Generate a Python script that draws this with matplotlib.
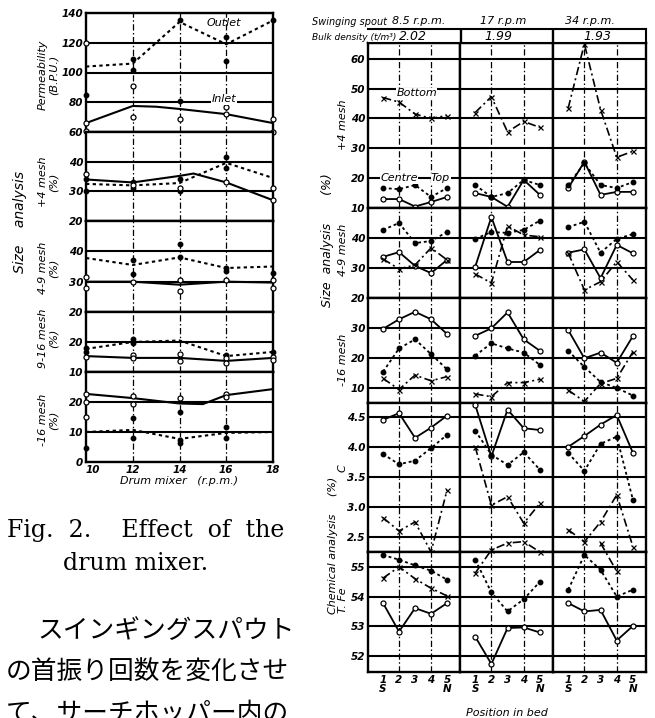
import numpy as np
import matplotlib.pyplot as plt

nan = np.nan
W, H = 655, 718

# ---------------- left chart: drum mixer ----------------
rpm = [10, 12, 14, 16, 18]
rpm_labels = ['10', '12', '14', '16', '18']

perm_outlet = [104, 106, 134, 119, 135]
perm_inlet_x = [10, 12, 13, 14, 16, 18]
perm_inlet = [66, 77.5, 77, 75.5, 72, 66]
perm_dots_x = [10, 12, 12, 14, 14, 16, 16, 18]
perm_dots = [85, 109, 102, 135, 81, 124, 108, 135]
perm_rings_x = [10, 10, 10, 12, 12, 14, 16, 16, 18, 18]
perm_rings = [120, 66, 61, 91, 70, 69, 77, 72, 69, 60]

m4_solid_x = [10, 12, 14, 14.6, 16, 18]
m4_solid = [34, 33, 35.2, 36, 33, 27]
m4_dotted = [32.5, 32, 32.8, 39.6, 34.5]
m4_dots_x = [10, 10, 12, 12, 14, 14, 16, 16]
m4_dots = [34, 30, 33, 31, 34, 30, 41.6, 38]
m4_rings_x = [10, 12, 14, 16, 18, 18]
m4_rings = [36, 32, 31, 33, 31, 27]

m49_solid = [30, 30, 29, 30, 29.7]
m49_dotted = [37.8, 35.5, 38, 34.5, 35]
m49_dots_x = [12, 12, 14, 14, 16, 16, 18]
m49_dots = [37, 32.5, 42.4, 38, 34.5, 33.5, 33]
m49_rings_x = [10, 10, 12, 14, 14, 16, 18, 18]
m49_rings = [31.5, 28, 30, 30.5, 27, 30.5, 30.5, 28]

m916_solid = [15.3, 14.7, 14.7, 13.7, 14.7]
m916_dotted = [17.7, 20, 20.5, 15.3, 16.7]
m916_dots_x = [10, 10, 12, 12, 16, 18]
m916_dots = [18, 16.5, 21, 19.5, 15.5, 16.5]
m916_rings_x = [10, 12, 12, 14, 14, 16, 16, 18, 18]
m916_rings = [15, 15.5, 14.5, 16, 13.5, 14.5, 13, 15, 14]

m16_solid_x = [10, 12, 14, 15, 16, 18]
m16_solid = [22.7, 21.3, 19.5, 19.3, 22.3, 24.3]
m16_dotted = [10, 10.7, 7.7, 9.7, 10]
m16_dots_x = [10, 12, 12, 14, 14, 14, 16, 16]
m16_dots = [4.7, 14.7, 8, 16.7, 7.5, 6.3, 11.7, 8]
m16_rings_x = [10, 10, 10, 12, 12, 14, 16, 16]
m16_rings = [22.7, 20, 15, 22, 19.5, 21.5, 22.8, 21.7]

# ---------------- right chart: swinging spout ----------------
positions = [1, 2, 3, 4, 5]
spout_speed = ['8.5 r.p.m.', '17 r.p.m', '34 r.p.m.']
bulk_density = ['2.02', '1.99', '1.93']

# per section (8.5, 17, 34 rpm), positions 1..5
r4_top = [[13, 13, 10.5, 12, 13.7], [15, 13.7, 10.4, 19.4, 14.4], [16.7, 25.5, 14.4, 15.4, 15.4]]
r4_centre = [[16.7, 16.3, 17.7, 13.7, 16.7], [17.7, 13.7, 15, 19.4, 17.7], [17.7, 25, 17.7, 16.7, 18.7]]
r4_bottom = [[47, 45.5, 41.5, 40, 41], [42, 47.3, 35.5, 39, 37], [43.5, 65, 43, 27, 29]]

r49_top = [[33.7, 35.3, 30.7, 28.3, 32.7], [30.4, 47, 32, 32, 36], [35.1, 36.2, 26.6, 37.7, 34.9]]
r49_centre = [[42.7, 45, 38.3, 39, 42], [39.7, 42, 41.7, 42.7, 45.8], [43.6, 45.4, 35.1, 39.7, 41.3]]
r49_bottom = [[33, 29.7, 31, 36.7, 32.7], [28, 25, 44, 41, 40.4], [35, 22.7, 25.4, 32.1, 26]]

r16_top = [[29.7, 32.9, 35.4, 32.9, 28], [27.4, 29.9, 35.2, 26.2, 22.4], [29.3, 19.9, 21.8, 18.4, 27.3]]
r16_centre = [[15.4, 23.2, 26.2, 21.3, 16.2], [20.8, 24.9, 23.2, 21.8, 17.7], [22.4, 17, 12, 10, 7.5]]
r16_bottom = [[13.2, 9.5, 14.3, 12.4, 13.8], [8, 7.1, 11.8, 11.8, 12.9], [9.3, 5.5, 11.5, 13.2, 22]]

rC_top = [[4.45, 4.56, 4.15, 4.32, 4.52], [4.7, 3.84, 4.62, 4.31, 4.28], [4.0, 4.18, 4.37, 4.53, 3.9]]
rC_centre = [[3.88, 3.71, 3.77, 3.98, 4.2], [4.27, 3.87, 3.7, 3.91, 3.62], [3.9, 3.6, 4.05, 4.17, 3.12]]
rC_bottom = [[2.82, 2.6, 2.75, 2.25, 3.28], [4.0, 3.03, 3.17, 2.73, 3.06], [2.62, 2.42, 2.75, 3.2, 2.34]]

rFe_top = [[53.78, 52.82, 53.61, 53.42, 53.78], [52.65, 51.73, 52.94, 52.96, 52.79], [53.78, 53.5, 53.55, 52.52, 53.01]]
rFe_centre = [[55.4, 55.24, 55.05, 54.87, 54.57], [55.24, 54.14, 53.5, 53.91, 54.5], [54.23, 55.4, 54.9, 54.0, 54.23]]
rFe_bottom = [[54.62, 55.0, 54.6, 54.28, 54.02], [54.79, 55.57, 55.8, 55.85, 55.5], [nan, nan, 55.8, 54.85, nan]]

# ---------------- drawing ----------------
fig = plt.figure(figsize=(W / 100, H / 100), dpi=100)
ff = ['Liberation Sans Narrow', 'DejaVu Sans']
num = dict(fontsize=7.5, fontstyle='italic', fontweight='bold', family=ff)
lab = dict(fontsize=8, fontstyle='italic', family=ff)

ring = dict(marker='o', mfc='white', mec='k', ms=3.6, mew=0.9, color='k')
dot = dict(marker='o', mfc='k', mec='k', ms=3.2, color='k')
xm = dict(marker='x', mec='k', ms=3.6, mew=0.9, color='k')
DOT = (0, (1.6, 1.6))
DASHDOT = (0, (5, 2, 1.2, 2))


def box(x0, y0, x1, y1):
    return fig.add_axes([x0 / W, 1 - y1 / H, (x1 - x0) / W, (y1 - y0) / H])


def frame(ax, ticks, labels, vlines, show_labels=True):
    for t in ticks:
        ax.axhline(t, color='k', lw=1.5, zorder=1)
    for v in vlines:
        ax.axvline(v, color='k', lw=0.9, ls=DASHDOT, zorder=1)
    for s in ax.spines.values():
        s.set_linewidth(1.7)
    ax.set_yticks(ticks)
    ax.set_xticks([])
    if show_labels:
        ax.set_yticklabels(labels, **num)
    else:
        ax.set_yticklabels([])
    ax.tick_params(length=0, pad=2)


# left chart panels: (top px, bottom px, ymin, ymax, ticks)
left = [
    (13, 132, 60, 140, [60, 80, 100, 120, 140]),
    (132, 221, 20, 50, [20, 30, 40]),
    (221, 312, 20, 50, [20, 30, 40]),
    (312, 372, 10, 30, [10, 20]),
    (372, 462, 0, 30, [0, 10, 20]),
]
left_series = [
    ([(perm_inlet_x, perm_inlet)], [(rpm, perm_outlet)], (perm_dots_x, perm_dots), (perm_rings_x, perm_rings)),
    ([(m4_solid_x, m4_solid)], [(rpm, m4_dotted)], (m4_dots_x, m4_dots), (m4_rings_x, m4_rings)),
    ([(rpm, m49_solid)], [(rpm, m49_dotted)], (m49_dots_x, m49_dots), (m49_rings_x, m49_rings)),
    ([(rpm, m916_solid)], [(rpm, m916_dotted)], (m916_dots_x, m916_dots), (m916_rings_x, m916_rings)),
    ([(m16_solid_x, m16_solid)], [(rpm, m16_dotted)], (m16_dots_x, m16_dots), (m16_rings_x, m16_rings)),
]
lax = []
for (y0, y1, lo, hi, ticks), (solids, dotteds, dots, rings) in zip(left, left_series):
    ax = box(86, y0, 273, y1)
    ax.set_xlim(10, 18)
    ax.set_ylim(lo, hi)
    frame(ax, ticks, [str(t) for t in ticks], [12, 14, 16])
    for x, y in solids:
        ax.plot(x, y, color='k', lw=1.5, zorder=3)
    for x, y in dotteds:
        ax.plot(x, y, color='k', lw=1.5, ls=DOT, zorder=3)
    ax.plot(dots[0], dots[1], ls='none', zorder=4, clip_on=False, **dot)
    ax.plot(rings[0], rings[1], ls='none', zorder=4, clip_on=False, **ring)
    lax.append(ax)

lax[0].text(15.9, 133, 'Outlet', ha='center', va='center', zorder=5, **lab)
lax[0].text(15.9, 82, 'Inlet', ha='center', va='center', zorder=5,
            bbox=dict(fc='white', ec='none', pad=0.5), **lab)
bot = lax[-1]
bot.set_xticks(rpm)
bot.set_xticklabels(rpm_labels, **num)
bot.get_xticklabels()[0].set_ha('left')
bot.tick_params(axis='x', length=0, pad=2)
bot.set_xlabel('Drum mixer   (r.p.m.)', labelpad=1, **lab)

fig.text(48 / W, 1 - 75 / H, 'Permeability\n(B.P.U.)', rotation=90, ha='center', va='center',
         multialignment='center', linespacing=1.1, **lab)
fig.text(20 / W, 1 - 222 / H, 'Size    analysis', rotation=90, ha='center', va='center',
         fontsize=10, fontstyle='italic', family=ff)
for yc, txt in [(182, '+4 mesh\n(%)'), (268, '4-9 mesh\n(%)'), (338, '9-16 mesh\n(%)'), (420, '-16 mesh\n(%)')]:
    fig.text(48 / W, 1 - yc / H, txt, rotation=90, ha='center', va='center',
             multialignment='center', linespacing=1.1, **lab)

# caption and body text
fig.text(7 / W, 1 - 531 / H, 'Fig.  2.    Effect  of  the', ha='left', va='center',
         fontsize=17, family='DejaVu Serif')
fig.text(136 / W, 1 - 564 / H, 'drum mixer.', ha='center', va='center',
         fontsize=17, family='DejaVu Serif')
jp = ['Noto Sans CJK JP', 'DejaVu Sans']
fig.text(37 / W, 1 - 631 / H, 'スインギングスパウト', ha='left', va='center', fontsize=18.5, family=jp)
fig.text(6 / W, 1 - 672 / H, 'の首振り回数を変化させ', ha='left', va='center', fontsize=18.5, family=jp)
fig.text(6 / W, 1 - 701 / H, 'て、サーチホッパー内の', ha='left', va='top', fontsize=18.5, family=jp)

# right chart panels
right = [
    (43, 208, 10, 65.3, [10, 20, 30, 40, 50, 60], (r4_top, r4_centre, r4_bottom)),
    (208, 298, 20, 50, [20, 30, 40], (r49_top, r49_centre, r49_bottom)),
    (298, 403, 5, 40, [10, 20, 30], (r16_top, r16_centre, r16_bottom)),
    (403, 552, 2.25, 4.73, [2.5, 3.0, 3.5, 4.0, 4.5], (rC_top, rC_centre, rC_bottom)),
    (552, 672, 51.46, 55.5, [52, 53, 54, 55], (rFe_top, rFe_centre, rFe_bottom)),
]
sec_x = [368, 460, 553, 646]
rax = {}
for pi, (y0, y1, lo, hi, ticks, (top, centre, bottom)) in enumerate(right):
    for s in range(3):
        ax = box(sec_x[s], y0, sec_x[s + 1], y1)
        ax.set_xlim(0.06, 5.81)
        ax.set_ylim(lo, hi)
        labels = [('%.1f' % t) if pi == 3 else str(t) for t in ticks]
        frame(ax, ticks, labels, [2, 4], show_labels=(s == 0))
        ax.plot(positions, top[s], lw=1.3, zorder=3, clip_on=False, **ring)
        ax.plot(positions, centre[s], lw=1.3, ls=DOT, zorder=3, clip_on=False, **dot)
        ax.plot(positions, bottom[s], lw=1.2, ls=DASHDOT, zorder=3, clip_on=False, **xm)
        rax[(pi, s)] = ax
        if pi == 4:
            ax.set_xticks(positions)
            tl = [str(p) for p in positions]
            tl[0] = '1\nS'
            tl[-1] = '5\nN'
            ax.set_xticklabels(tl, linespacing=0.95, **num)
            ax.tick_params(axis='x', length=0, pad=2)

a = rax[(0, 0)]
a.text(3.1, 48.5, 'Bottom', ha='center', va='center', zorder=5,
       bbox=dict(fc='white', ec='none', pad=0.3), **lab)
a.text(2.0, 20, 'Centre', ha='center', va='center', zorder=5,
       bbox=dict(fc='white', ec='none', pad=0.3), **lab)
a.text(4.6, 20, 'Top', ha='center', va='center', zorder=5,
       bbox=dict(fc='white', ec='none', pad=0.3), **lab)
fig.text(507 / W, 1 - 713 / H, 'Position in bed', ha='center', va='center', **lab)

# header rows
hax = box(368, 29, 646, 43)
hax.set_xlim(0, 3)
hax.set_ylim(0, 1)
hax.set_xticks([])
hax.set_yticks([])
hax.spines['left'].set_visible(False)
for k in ['top', 'bottom', 'right']:
    hax.spines[k].set_linewidth(1.5)
for v in [1, 2]:
    hax.axvline(v, color='k', lw=1.7)
density_x = [0.49, 0.41, 0.48]
speed_x = [0.55, 0.46, 0.4]
for s in range(3):
    hax.text(s + density_x[s], 0.45, bulk_density[s], ha='center', va='center', fontsize=9,
             fontstyle='italic', family=ff)
    hax.text(s + speed_x[s], 1.6, spout_speed[s], ha='center', va='center', clip_on=False, **lab)
fig.text(312 / W, 1 - 22 / H, 'Swinging spout', ha='left', va='center', fontsize=7,
         fontstyle='italic', family=ff)
fig.text(312 / W, 1 - 37 / H, 'Bulk density (t/m³)', ha='left', va='center', fontsize=6.5,
         fontstyle='italic', family=ff)

# right axis titles
for yc, txt in [(125, '+4 mesh'), (250, '4-9 mesh'), (360, '-16 mesh'), (468, 'C'), (600, 'T. Fe')]:
    fig.text(343 / W, 1 - yc / H, txt, rotation=90, ha='center', va='center', **lab)
fig.text(328 / W, 1 - 240 / H, 'Size  analysis       (%)', rotation=90, ha='center', va='center',
         fontsize=9, fontstyle='italic', family=ff)
fig.text(333 / W, 1 - 545 / H, 'Chemical analysis     (%)', rotation=90, ha='center', va='center',
         fontsize=8, fontstyle='italic', family=ff)

fig.savefig('out.png', dpi=100, facecolor='white')
